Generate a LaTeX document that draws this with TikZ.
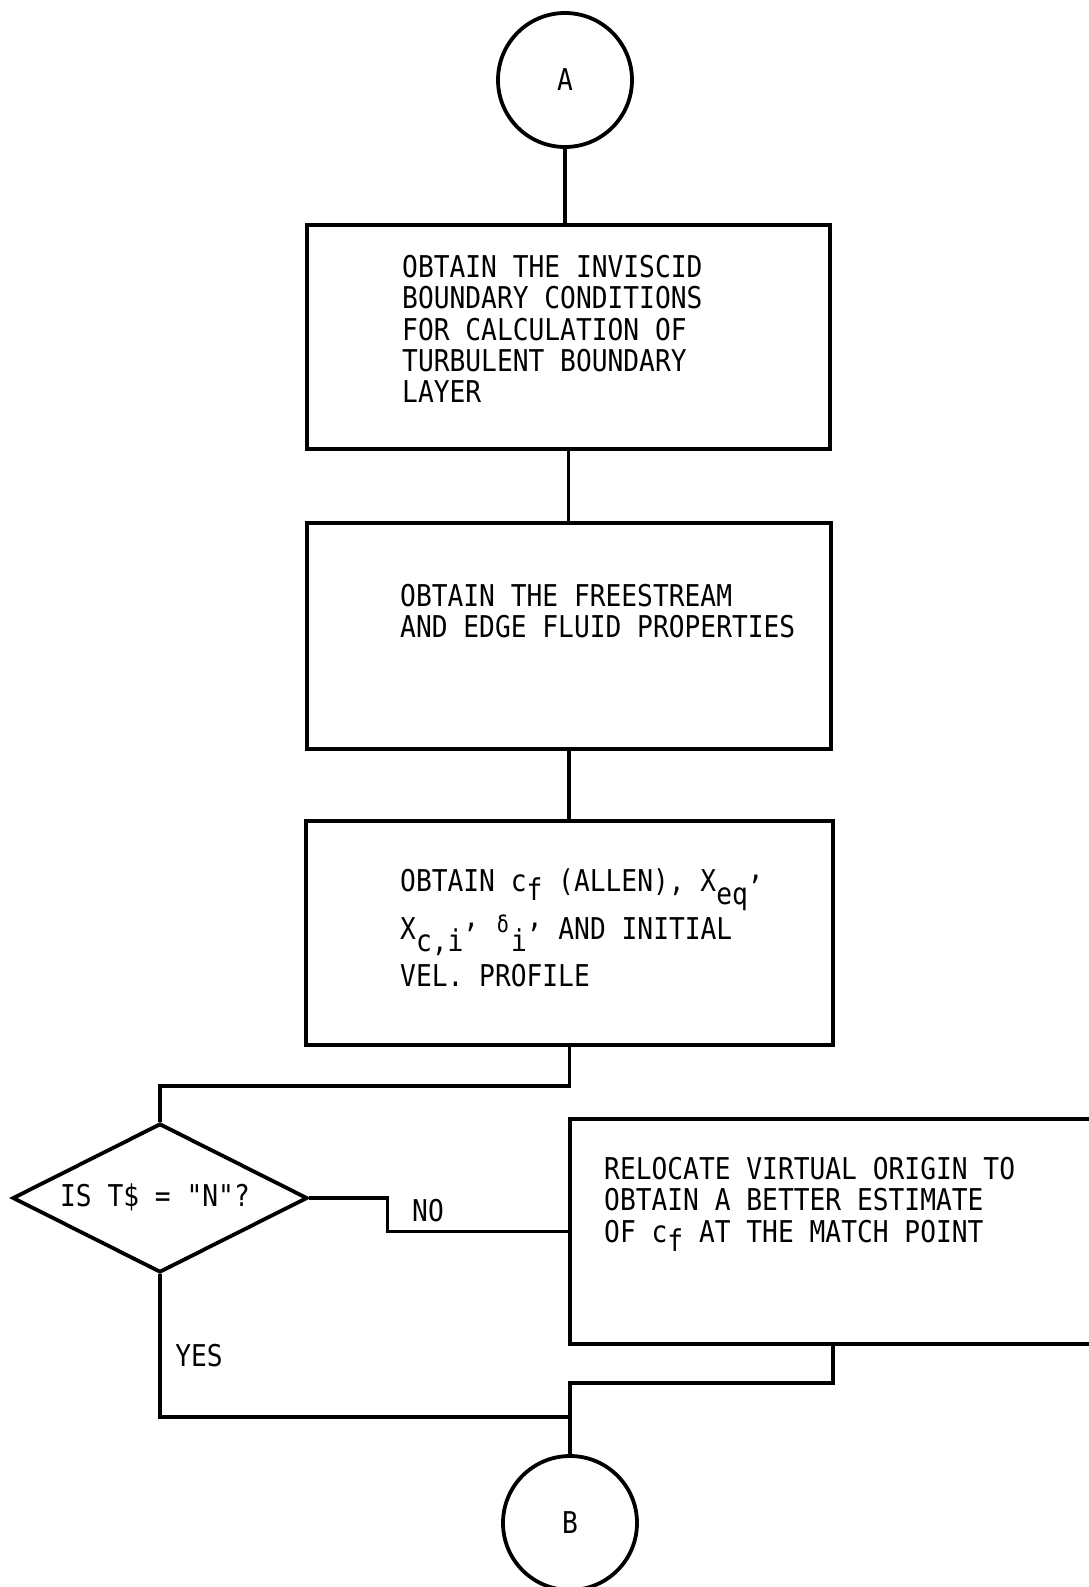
\documentclass[tikz,border=0pt]{standalone}
\usepackage{fontspec}
\setmonofont[FakeStretch=0.875]{DejaVu Sans Mono}
\usetikzlibrary{shapes.geometric,calc}
\newcommand\tw{\ttfamily\fontsize{30}{31.3}\selectfont}
\newcommand\dn[1]{\smash{\raisebox{-0.42em}{#1}}}
\newcommand\rc{\smash{\raisebox{0.4em}{,}}}
\newcommand\sdelta{\makebox[16pt]{\smash{\raisebox{0.22em}{\fontsize{23}{23}\selectfont δ}}}}
\begin{document}
\begin{tikzpicture}[x=1pt,y=-1pt,
  conn/.style={line width=3.8pt},
  box/.style={draw, rectangle, line width=3.8pt, inner sep=0pt},
  conncircle/.style={draw, circle, line width=3.8pt, inner sep=0pt, minimum size=134pt, font=\tw},
  decision/.style={draw, diamond, aspect=2, line width=3.8pt, inner sep=0pt, minimum width=295pt, minimum height=149pt},
  txt/.style={anchor=north west, inner sep=0pt, align=left, font=\tw},
  lbl/.style={inner sep=0pt, font=\tw}]
\useasboundingbox (0,0) rectangle (1088,1587);

\node[conncircle] (A) at (565,80) {A};
\node[box, minimum width=523pt, minimum height=224pt] (b1) at (568.5,337) {};
\node[box, minimum width=524pt, minimum height=226pt] (b2) at (569,636) {};
\node[box, minimum width=527pt, minimum height=224pt] (b3) at (569.5,933) {};
\node[decision] (d) at (160,1198) {};
\node[box, minimum width=540pt, minimum height=225pt] (b4) at (840,1231.5) {};
\node[conncircle] (B) at (570,1523) {B};

\node[txt] (t1) at (402,255) {OBTAIN THE INVISCID\\BOUNDARY CONDITIONS\\FOR CALCULATION OF\\TURBULENT BOUNDARY\\LAYER};
\node[txt] (t2) at (400,584) {OBTAIN THE FREESTREAM\\AND EDGE FLUID PROPERTIES};
\node[txt] (t3) at (400,869) {OBTAIN c\smash{\raisebox{-0.3em}{f}} (ALLEN), X\dn{eq}\rc\\[16pt]X\dn{c,i}\rc{} \sdelta\dn{i}\rc{} AND INITIAL\\[16pt]VEL. PROFILE};
\node[txt] (t4) at (604,1157) {RELOCATE VIRTUAL ORIGIN TO\\OBTAIN A BETTER ESTIMATE\\OF c\smash{\raisebox{-0.3em}{f}} AT THE MATCH POINT};
\node[lbl] (dt) at (155,1197) {IS T\$ = "N"?};

\node[lbl] (no) at (428,1211) {NO};
\node[lbl] (yes) at (199,1356) {YES};

\draw[conn] (A.south) -- (A.south |- b1.north);
\draw[conn] (b1.south) -- (b1.south |- b2.north);
\draw[conn] (b2.south) -- (b2.south |- b3.north);
\draw[conn] (b3.south) -- ++(0,39) -| (d.north);
\draw[conn] (d.east) -- ++(78,0) |- (b4.west);
\draw[conn] ([xshift=-7pt]b4.south) -- ++(0,37) -| (B.north);
\draw[conn] (d.south) |- (B.north |- 0,1417);
\end{tikzpicture}
\end{document}
